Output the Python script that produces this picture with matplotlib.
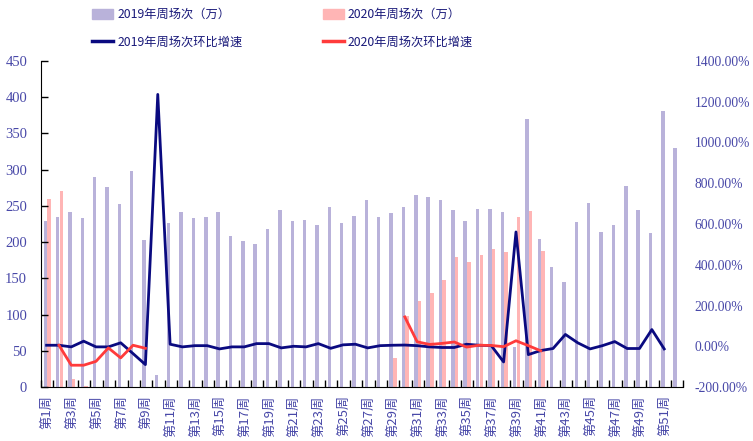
import numpy as np
import matplotlib.pyplot as plt
from matplotlib.patches import Patch
from matplotlib.lines import Line2D
from matplotlib.ticker import FuncFormatter, MultipleLocator

nan = np.nan

# weekly data
weeks = [f"第{i}周" for i in range(1, 53)]

sessions_2019 = [228.5, 235, 242, 233.5, 290, 276, 253, 297.5, 203, 17,
                 227, 242, 233.5, 234, 242, 209, 201, 198, 218, 243.7,
                 229, 230.8, 223, 248.7, 226, 236.7, 257.5, 235, 240, 248.7,
                 265, 262.5, 258.4, 243.7, 229, 246, 246.4, 241, 55.7, 370,
                 204.5, 165, 145, 227.5, 253.8, 213.7, 223.4, 277, 245, 212.8,
                 381, 330]

sessions_2020 = [260, 271, 11.5, 1.5, 0.4, 0.37, 0.16, 0.17, 0.15, nan,
                 nan, nan, nan, nan, nan, nan, nan, nan, nan, nan,
                 nan, nan, nan, nan, nan, nan, nan, nan, 40, 98,
                 119, 130, 148, 179, 173, 182, 190, 186, 235, 243,
                 188, nan, nan, nan, nan, nan, nan, nan, nan, nan,
                 nan, nan]

growth_2019 = [5, 5, -3, 25, -3, -3, 17, -36, -90, 1236,
               10, -3, 3, 3, -13, -3, -3, 13, 13, -8,
               0, -3, 13, -10, 7, 10, -8, 3, 5, 6,
               3, -3, -6, -6, 10, 5, 3, -77, 561, -41,
               -21, -11, 58, 17, -13, 3, 23, -11, -11, 82,
               -13, nan]

growth_2020 = [nan, 5, -93, -93, -74, -8, -57, 5, -10, nan,
               nan, nan, nan, nan, nan, nan, nan, nan, nan, nan,
               nan, nan, nan, nan, nan, nan, nan, nan, nan, 144,
               22, 9, 14, 21, -4, 5, 4, -2, 27, 3,
               -22, nan, nan, nan, nan, nan, nan, nan, nan, nan,
               nan, nan]

c19_bar = "#B9B2DA"
c20_bar = "#FFB5B5"
c19_line = "#0A0A80"
c20_line = "#FF3B3B"
tick_col = "#4848A8"
text_col = "#1A1A7A"
cjk = ["Noto Sans CJK SC", "DejaVu Sans"]

x = np.arange(len(weeks))

fig = plt.figure(figsize=(7.53, 4.41), dpi=100)
ax = fig.add_axes([0.0545, 0.1224, 0.853, 0.7393])

ax.bar(x - 0.16, sessions_2019, width=0.28, color=c19_bar)
ax.bar(x + 0.14, sessions_2020, width=0.28, color=c20_bar)
ax.set_xlim(-0.5, len(weeks) - 0.5)
ax.set_ylim(0, 450)
ax.yaxis.set_major_locator(MultipleLocator(50))

ax.set_xticks(x[::2])
ax.set_xticklabels(weeks[::2], rotation=90, fontsize=9.5, family=cjk, color=tick_col)
ax.set_xticks(np.arange(len(weeks) + 1) - 0.5, minor=True)
ax.tick_params(axis="x", which="major", length=0, pad=6)
ax.tick_params(axis="x", which="minor", length=5, direction="in", width=1)
ax.tick_params(axis="y", direction="in", length=5, width=1, pad=10)
for lab in ax.get_yticklabels():
    lab.set_family("Liberation Serif")
    lab.set_fontsize(10.5)
    lab.set_color(tick_col)

for s in ["top", "right"]:
    ax.spines[s].set_visible(False)

ax2 = ax.twinx()
ax2.plot(x - 0.05, growth_2019, color=c19_line, lw=2)
ax2.plot(x - 0.05, growth_2020, color=c20_line, lw=2)
ax2.set_ylim(-200, 1400)
ax2.yaxis.set_major_locator(MultipleLocator(200))
ax2.yaxis.set_major_formatter(FuncFormatter(lambda v, p: f"{v:.2f}%"))
ax2.tick_params(axis="y", length=0, pad=8)
for lab in ax2.get_yticklabels():
    lab.set_family("Liberation Serif")
    lab.set_fontsize(9.8)
    lab.set_color(tick_col)
for s in ax2.spines.values():
    s.set_visible(False)

handles = [
    Patch(color=c19_bar, label="2019年周场次（万）"),
    Line2D([], [], color=c19_line, lw=2.5, label="2019年周场次环比增速"),
    Patch(color=c20_bar, label="2020年周场次（万）"),
    Line2D([], [], color=c20_line, lw=2.5, label="2020年周场次环比增速"),
]
leg = fig.legend(handles=handles, ncol=2, loc="upper left",
                 bbox_to_anchor=(92 / 753, 1 - 8 / 441), frameon=False,
                 prop={"family": cjk, "size": 8.8}, handlelength=1.7,
                 handleheight=0.9, handletextpad=0.35, columnspacing=6.6,
                 labelspacing=1.2, borderpad=0, borderaxespad=0)
for t in leg.get_texts():
    t.set_color(text_col)

fig.savefig("out.png", dpi=100)
